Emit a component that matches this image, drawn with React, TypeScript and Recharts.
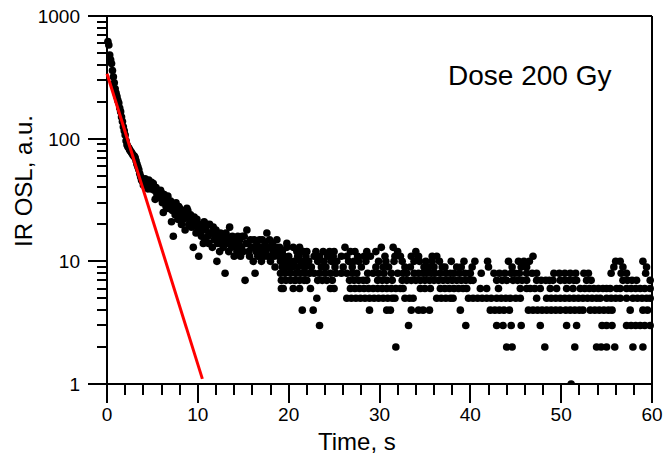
import React from 'react';
import { ScatterChart, Scatter, XAxis, YAxis, ReferenceLine } from 'recharts';

const FONT = '"Liberation Sans", Arial, sans-serif';

// axis ticks (minor ticks have no label)
const xTicks = [0, 2, 4, 6, 8, 10, 12, 14, 16, 18, 20, 22, 24, 26, 28, 30, 32, 34, 36, 38, 40, 42, 44, 46, 48, 50, 52, 54, 56, 58, 60];
const xLabels = [0, 10, 20, 30, 40, 50, 60];
const yTicks = [1, 2, 3, 4, 5, 6, 7, 8, 9, 10, 20, 30, 40, 50, 60, 70, 80, 90, 100, 200, 300, 400, 500, 600, 700, 800, 900, 1000];
const yLabels = [1, 10, 100, 1000];

// fast component, 0-5 s : [time s, IR OSL counts]
const fastDecay: [number, number][] = [
  [0.1, 620], [0.2, 580], [0.3, 480], [0.4, 440], [0.5, 410], [0.6, 360], [0.7, 320], [0.8, 285], [0.9, 255], [1.0, 235],
  [1.1, 220], [1.2, 205], [1.3, 195], [1.4, 178], [1.5, 166], [1.6, 150], [1.7, 138], [1.8, 125], [1.9, 116], [2.0, 107],
  [2.1, 96], [2.2, 89], [2.3, 86], [2.4, 84], [2.5, 81], [2.6, 79], [2.7, 77], [2.8, 75], [2.9, 73], [3.0, 72],
  [3.1, 70], [3.2, 66], [3.3, 62], [3.4, 59], [3.5, 56], [3.6, 52], [3.7, 49], [3.8, 46], [3.9, 45], [4.0, 42],
  [4.1, 44], [4.2, 47], [4.3, 42], [4.4, 45], [4.5, 39], [4.6, 46], [4.7, 43], [4.8, 39], [4.9, 44], [5.0, 40],
];

// slow cloud, 5-22 s
const slowCloud: [number, number][] = [
  [5.1, 43], [5.2, 38], [5.3, 32], [5.4, 40], [5.5, 35], [5.6, 37], [5.7, 33], [5.8, 34], [5.9, 38], [6.0, 36],
  [6.1, 30], [6.2, 25], [6.3, 35], [6.4, 32], [6.5, 28], [6.6, 30], [6.7, 34], [6.8, 27], [6.9, 29], [7.0, 31],
  [7.1, 21], [7.2, 26], [7.3, 16], [7.4, 28], [7.5, 24], [7.6, 30], [7.7, 25], [7.8, 22], [7.9, 28], [8.0, 27],
  [8.1, 24], [8.2, 20], [8.3, 26], [8.4, 22], [8.5, 25], [8.6, 18], [8.7, 23], [8.8, 27], [8.9, 26], [9.0, 20],
  [9.1, 22], [9.2, 24], [9.3, 19], [9.4, 21], [9.5, 13], [9.6, 23], [9.7, 20], [9.8, 17], [9.9, 22], [10.0, 18],
  [10.1, 11], [10.2, 20], [10.3, 17], [10.4, 16], [10.5, 19], [10.6, 14], [10.7, 21], [10.8, 15], [10.9, 18], [11.0, 20],
  [11.1, 16], [11.2, 14], [11.3, 20], [11.4, 17], [11.5, 17], [11.6, 13], [11.7, 19], [11.8, 15], [11.9, 16], [12.0, 18],
  [12.1, 10], [12.2, 14], [12.3, 15], [12.4, 12], [12.5, 17], [12.6, 14], [12.7, 16], [12.8, 13], [12.9, 15], [13.0, 8],
  [13.1, 17], [13.2, 16], [13.3, 14], [13.4, 12], [13.5, 19], [13.6, 15], [13.7, 13], [13.8, 16], [13.9, 14], [14.0, 11],
  [14.1, 15], [14.2, 13], [14.3, 12], [14.4, 16], [14.5, 14], [14.6, 15], [14.7, 11], [14.8, 13], [14.9, 16], [15.0, 12],
  [15.1, 16], [15.2, 7], [15.3, 14], [15.4, 18], [15.5, 14], [15.6, 12], [15.7, 11], [15.8, 15], [15.9, 13], [16.0, 13],
  [16.1, 10], [16.2, 15], [16.3, 8], [16.4, 12], [16.5, 14], [16.6, 11], [16.7, 13], [16.8, 15], [16.9, 12], [17.0, 10],
  [17.1, 15], [17.2, 13], [17.3, 11], [17.4, 14], [17.5, 12], [17.6, 17], [17.7, 11], [17.8, 13], [17.9, 15], [18.0, 10],
  [18.1, 13], [18.2, 14], [18.3, 12], [18.4, 11], [18.5, 9], [18.6, 13], [18.7, 15], [18.8, 12], [18.9, 11], [19.0, 13],
  [19.1, 10], [19.3, 9], [19.4, 6], [19.5, 11], [19.8, 14], [19.9, 9], [20.1, 10], [20.4, 9], [20.7, 7], [21.1, 11],
  [21.3, 10], [21.5, 12], [21.7, 9], [21.9, 11],
];

// tail: times (s) of the dots sitting on each integer count
const tailAt1 = [51.1];
const tailAt2 = [31.8, 44.0, 44.6, 48.2, 51.5, 53.9, 54.4, 55.0, 55.9, 57.9, 59.0];
const tailAt3 = [23.4, 33.2, 39.5, 42.9, 43.6, 44.5, 45.6, 47.7, 50.6, 51.7, 54.5, 55.0, 55.6, 57.2, 57.7, 58.2, 58.7, 59.2, 59.8];
const tailAt4 = [21.5, 22.7, 28.9, 30.8, 31.2, 33.5, 34.3, 34.8, 35.5, 38.9, 42.2, 42.7, 43.2, 43.7, 44.3, 46.4, 46.9, 47.4, 47.9,
  48.4, 48.9, 49.4, 49.9, 50.5, 51.0, 51.5, 52.0, 52.4, 53.2, 53.7, 54.2, 54.7, 55.2, 55.6, 57.6, 59.0, 59.5];
const tailAt5 = [23.1, 26.4, 26.9, 27.4, 27.9, 28.4, 28.9, 29.4, 29.9, 30.4, 30.9, 31.4, 31.7, 32.8, 33.3, 33.7, 36.3, 36.8, 37.3,
  37.8, 38.1, 39.8, 40.3, 40.8, 41.3, 41.8, 42.3, 42.9, 43.4, 43.9, 44.4, 45.0, 45.5, 47.3, 48.4, 48.9, 49.4, 49.9, 50.4, 50.9,
  51.4, 51.9, 52.4, 52.9, 53.4, 53.9, 54.3, 55.0, 55.5, 56.0, 56.5, 57.2, 57.9, 58.4, 58.9, 59.4, 59.8];
const tailAt6 = [19.2, 20.5, 21.2, 22.4, 24.6, 25.0, 26.8, 27.3, 27.8, 28.3, 28.8, 29.3, 29.8, 30.3, 30.8, 31.3, 31.8, 32.3, 32.6,
  34.5, 35.0, 35.6, 36.7, 37.2, 37.7, 38.2, 38.7, 39.2, 39.6, 41.1, 41.8, 43.1, 45.5, 46.2, 46.6, 47.1, 47.7, 48.8, 49.5, 50.6,
  51.3, 52.1, 52.6, 53.1, 53.6, 54.1, 54.6, 55.0, 55.4, 56.1, 56.5, 57.2, 57.7, 58.2, 58.7, 59.2, 59.8];
const tailAt7 = [19.2, 19.7, 20.2, 20.7, 21.2, 21.7, 22.0, 23.2, 23.7, 24.2, 24.8, 26.7, 27.2, 27.7, 28.2, 28.6, 29.8, 30.3, 30.8,
  31.4, 32.5, 33.0, 33.5, 34.0, 34.5, 35.0, 35.5, 36.0, 36.5, 37.0, 37.5, 38.0, 38.5, 39.0, 39.5, 40.0, 40.3, 42.9, 43.5, 44.0,
  44.7, 45.2, 45.7, 46.2, 47.3, 47.8, 48.3, 48.7, 49.1, 49.9, 50.4, 50.9, 51.4, 51.7, 52.8, 53.3, 56.8, 57.3, 57.8, 58.3, 59.8];
const tailAt8 = [19.1, 19.6, 20.2, 20.8, 21.3, 21.8, 22.3, 22.8, 23.4, 24.0, 24.6, 25.2, 25.8, 26.4, 27.0, 27.5, 28.7, 29.3, 29.9,
  30.5, 31.3, 32.0, 32.6, 33.0, 33.8, 34.3, 34.8, 35.2, 35.7, 36.1, 36.7, 37.3, 37.8, 38.2, 38.8, 39.4, 39.9, 40.0, 41.2, 42.6,
  43.2, 43.8, 44.5, 44.9, 45.4, 46.2, 46.8, 47.3, 49.2, 49.8, 50.4, 51.0, 51.6, 52.5, 53.0, 55.5, 56.6, 57.2, 59.3];
const tailAt9 = [19.9, 21.0, 21.8, 22.5, 23.6, 24.1, 25.1, 26.0, 27.0, 28.0, 29.6, 30.4, 31.0, 32.8, 33.4, 34.9, 35.4, 36.0, 36.9,
  37.2, 38.5, 39.0, 40.2, 42.0, 44.6, 45.6, 46.2, 55.8, 56.8, 59.4];
const tailAt10 = [19.6, 20.6, 21.4, 21.9, 22.2, 23.2, 23.9, 24.7, 25.3, 26.6, 27.2, 27.7, 28.5, 29.9, 30.7, 31.6, 32.5, 33.8, 34.4,
  35.1, 35.8, 36.6, 37.9, 39.3, 40.5, 41.9, 44.2, 45.3, 45.9, 46.5, 56.0, 56.5, 59.0];
const tailAt11 = [19.2, 20.0, 21.0, 22.8, 23.4, 24.3, 24.9, 25.8, 26.4, 27.6, 28.3, 29.0, 30.6, 31.7, 32.3, 33.5, 34.3, 35.8, 36.3, 46.9];
const tailAt12 = [19.3, 20.9, 21.6, 22.0, 23.0, 23.8, 24.5, 25.0, 26.8, 27.3, 28.6, 29.6, 32.0, 34.0];
const tailAt13 = [19.8, 20.5, 21.2, 26.2, 30.2, 31.5];

// single-exponential fit (red line) end points
const fitTimes = [0, 10.5];
const fitCounts = [338, 1.1];

const tailLevels: [number, number[]][] = [
  [1, tailAt1], [2, tailAt2], [3, tailAt3], [4, tailAt4], [5, tailAt5], [6, tailAt6], [7, tailAt7],
  [8, tailAt8], [9, tailAt9], [10, tailAt10], [11, tailAt11], [12, tailAt12], [13, tailAt13],
];

const dots = [
  ...fastDecay.map(([t, v]) => ({ t, v })),
  ...slowCloud.map(([t, v]) => ({ t, v })),
  ...tailLevels.flatMap(([v, times]) => times.map((t) => ({ t, v }))),
];
const fitLine = fitTimes.map((t, i) => ({ t, v: fitCounts[i] }));

// plot box, the chart margins are derived from it
const PLOT = { left: 107, top: 16, width: 545, height: 368 };
const W = 664;
const H = 456;

// tick marks as html overlay (svg tick lines did not show up in the screenshots)
const xPos = (t: number) => PLOT.left + (PLOT.width * t) / 60;
const yPos = (v: number) => PLOT.top + (PLOT.height * (3 - Math.log10(v))) / 3;

const XTickLabel = (props: any) => {
  if (!xLabels.includes(props.payload.value)) return <g />;
  return (
    <text x={props.x} y={Number(props.y) + 37} textAnchor="middle" fontSize={19} fontFamily={FONT} fill="#000">
      {props.payload.value}
    </text>
  );
};

const YTickLabel = (props: any) => {
  if (!yLabels.includes(props.payload.value)) return <g />;
  return (
    <text x={Number(props.x) - 27} y={Number(props.y) + 7} textAnchor="end" fontSize={19} fontFamily={FONT} fill="#000">
      {props.payload.value}
    </text>
  );
};

const Dot = (props: any) => <circle cx={props.cx} cy={props.cy} r={3.8} fill="#000" />;

const textStyle: React.CSSProperties = { position: 'absolute', fontFamily: FONT, color: '#000', whiteSpace: 'nowrap', lineHeight: 1 };
const markStyle: React.CSSProperties = { position: 'absolute', background: '#000' };

export default function App() {
  return (
    <div style={{ position: 'absolute', left: 0, top: 0, width: W, height: H, background: '#fff' }}>
      <ScatterChart
        width={W}
        height={H}
        margin={{ top: PLOT.top, right: W - PLOT.left - PLOT.width, bottom: 0, left: 0 }}
      >
        <XAxis
          type="number"
          dataKey="t"
          domain={[0, 60]}
          ticks={xTicks}
          interval={0}
          tickSize={0}
          tickMargin={0}
          tickLine={false}
          axisLine={{ stroke: '#000', strokeWidth: 2 }}
          tick={(p: any) => <XTickLabel {...p} />}
          height={H - PLOT.top - PLOT.height}
        />
        <YAxis
          type="number"
          dataKey="v"
          scale="log"
          domain={[1, 1000]}
          allowDataOverflow
          ticks={yTicks}
          interval={0}
          tickSize={0}
          tickMargin={0}
          tickLine={false}
          axisLine={{ stroke: '#000', strokeWidth: 2 }}
          tick={(p: any) => <YTickLabel {...p} />}
          width={PLOT.left}
        />
        <ReferenceLine y={1000} stroke="#000" strokeWidth={2} />
        <ReferenceLine x={60} stroke="#000" strokeWidth={2} />
        <Scatter data={dots} fill="#000" shape={Dot} isAnimationActive={false} />
        <Scatter
          data={fitLine}
          line={{ stroke: '#ff0000', strokeWidth: 3 }}
          shape={() => <g />}
          isAnimationActive={false}
        />
      </ScatterChart>
      {yTicks.map((v) => {
        const len = yLabels.includes(v) ? 19 : 10;
        return <div key={`ym${v}`} style={{ ...markStyle, left: PLOT.left - len, top: yPos(v) - 1, width: len, height: 2 }} />;
      })}
      {xTicks.map((t) => {
        const len = xLabels.includes(t) ? 19 : 11;
        return <div key={`xm${t}`} style={{ ...markStyle, left: xPos(t) - 1, top: PLOT.top + PLOT.height, width: 2, height: len }} />;
      })}
      <div style={{ ...textStyle, left: 448, top: 62, fontSize: 28 }}>Dose 200 Gy</div>
      <div style={{ ...textStyle, left: 318, top: 430, fontSize: 24 }}>Time, s</div>
      <div
        style={{
          ...textStyle,
          left: 24,
          top: 181,
          fontSize: 24,
          transform: 'translate(-50%, -50%) rotate(-90deg)',
        }}
      >
        IR OSL, a.u.
      </div>
    </div>
  );
}
